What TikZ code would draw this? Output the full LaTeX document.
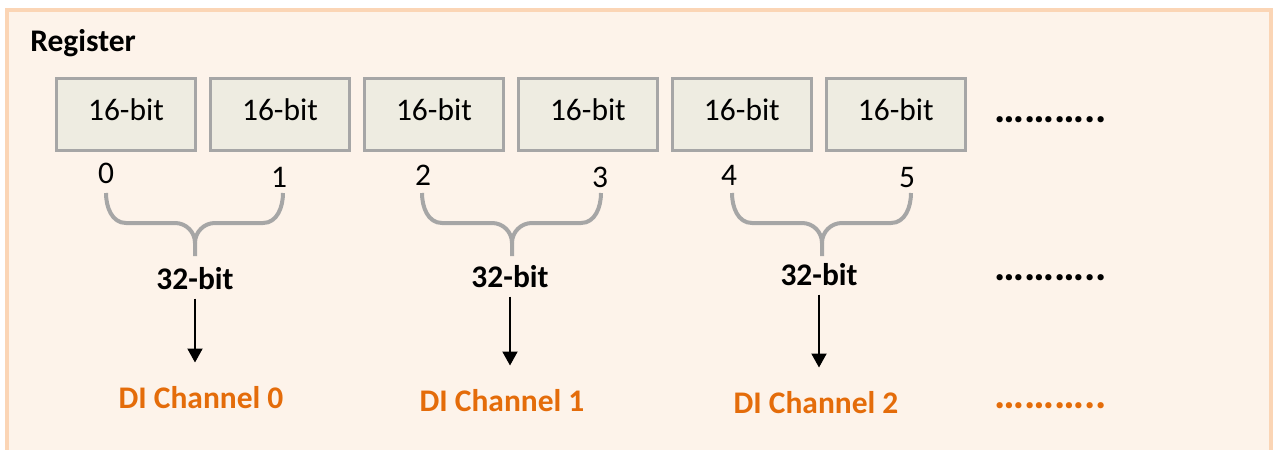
\documentclass[tikz,border=0pt]{standalone}
\usepackage{fontspec}
\setmainfont{Carlito}
\usepackage{tikz}
\usetikzlibrary{arrows.meta, positioning}

\definecolor{frameline}{HTML}{FBD5B5}
\definecolor{framefill}{HTML}{FDF3EA}
\definecolor{cellfill}{HTML}{EEECE1}
\definecolor{cellline}{HTML}{A6A6A6}
\definecolor{chan}{HTML}{E46C0A}

\begin{document}
\begin{tikzpicture}[x=0.02cm,y=-0.02cm,on grid,node distance=3.08cm,>={Triangle[length=0.28cm,width=0.3cm]},
        every node/.style={font=\fontsize{17.9}{21}\selectfont,inner sep=0pt},
        cell/.style={draw=cellline,fill=cellfill,line width=0.06cm,minimum width=2.78cm,minimum height=1.44cm,text depth=0.2cm},
        curly/.style={draw=cellline,line width=0.08cm},
        bitlabel/.style={font=\fontsize{17.9}{21}\selectfont\bfseries},
        channel/.style={bitlabel,text=chan},
        more/.style={font=\fontsize{24}{28}\selectfont\bfseries}]

        \useasboundingbox (0,0) rectangle (1276,450);
        \clip (0,0) rectangle (1276,450);
        \fill[framefill] (7,10) rectangle (1271,480);
        \draw[frameline,line width=0.08cm] (7,10) rectangle (1271,480);

        \node[bitlabel,anchor=west] (reg) at (30,43) {Register};

        \node[cell] (b0) at (126,114.5) {16-bit};
        \foreach \i [count=\j from 0] in {1,...,5}
            \node[cell,right=of b\j] (b\i) {16-bit};

        \foreach \k/\x/\y in {0/106/173, 1/279/177, 2/423/175, 3/600/177, 4/729/175, 5/907/178}
            \node (n\k) at (\x,\y) {\k};

        \foreach \a/\b/\m in {106/283/195, 422/601/512, 732/911/822} {
            \draw[curly] (\a,193) to[out=-90,in=180] (\a+20,223) -- (\m-20,223) to[out=0,in=90] (\m,243) -- (\m,256);
            \draw[curly] (\b,193) to[out=-90,in=0] (\b-20,223) -- (\m+20,223) to[out=180,in=90] (\m,243);
        }

        \foreach \k/\wx/\wy/\cx/\cy in {0/195/279/201/398, 1/510/277/502/401, 2/819/275/816/403} {
            \node[bitlabel] (w\k) at (\wx,\wy) {32-bit};
            \node[channel] (c\k) at (\cx,\cy) {DI Channel \k};
            \draw[->,line width=0.04cm,shorten <=0.16cm,shorten >=0.48cm] (w\k.south) -- (w\k.south |- c\k.north);
        }

        \foreach \y/\col in {120/black, 278/black, 406/chan}
            \node[more,text=\col] (d\y) at (1051,\y) {………..};
    \end{tikzpicture}
\end{document}
